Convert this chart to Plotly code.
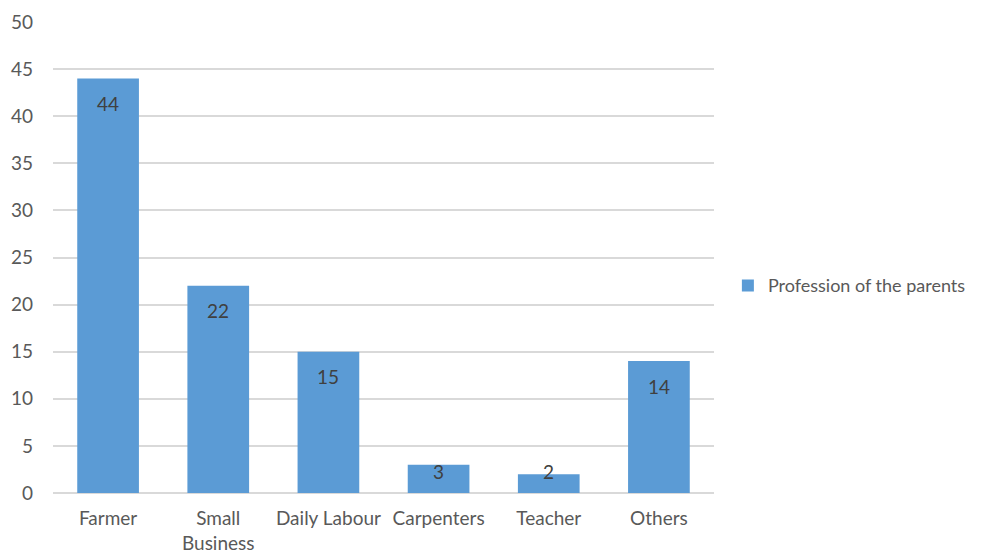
import plotly.graph_objects as go

categories = ["Farmer", "Small<br>Business", "Daily Labour", "Carpenters", "Teacher", "Others"]
values = [44, 22, 15, 3, 2, 14]
series_name = "Profession of the parents"
y_ticks = [0, 5, 10, 15, 20, 25, 30, 35, 40, 45, 50]

FONT = "Lato, Open Sans, sans-serif"
BAR_COLOR = "#5B9BD5"
FS = 19

fig = go.Figure()
fig.add_trace(go.Bar(
    x=categories, y=values, name=series_name,
    marker=dict(color=BAR_COLOR, line=dict(width=0)),
    showlegend=True,
))

# data labels inside the bar ends
px_per_unit = 471 / 50
label_offset = 25 / px_per_unit
min_label = 22 / px_per_unit
annotations = []
for c, v in zip(categories, values):
    annotations.append(dict(
        x=c, y=max(v - label_offset, min_label), xref="x", yref="y",
        text=str(v), showarrow=False, yanchor="middle",
        font=dict(family=FONT, size=FS, color="#404040"),
    ))

# page body has an 8px default margin, so the figure is drawn 8px smaller
fig.update_layout(
    width=976, height=546,
    margin=dict(l=45, r=270, t=14, b=61, autoexpand=False),
    plot_bgcolor="white", paper_bgcolor="white",
    bargap=0.44,
    font=dict(family=FONT, size=FS, color="#595959"),
    annotations=annotations,
    legend=dict(
        x=1.021, y=0.44, xanchor="left", yanchor="middle",
        font=dict(family=FONT, size=18, color="#595959"),
        itemwidth=30, bgcolor="rgba(0,0,0,0)",
    ),
    xaxis=dict(
        showgrid=False, showline=False, zeroline=False, automargin=False,
        tickfont=dict(family=FONT, size=FS, color="#595959"),
        ticks="", ticklabelstandoff=12,
    ),
    yaxis=dict(
        range=[0, 50], tickvals=y_ticks, automargin=False,
        showgrid=True, gridcolor="#D9D9D9", gridwidth=1.5,
        zeroline=True, zerolinecolor="#D9D9D9", zerolinewidth=1.5,
        showline=False, ticks="", ticklabelstandoff=19,
        tickfont=dict(family=FONT, size=FS, color="#595959"),
    ),
)

fig.write_html("out.html")
